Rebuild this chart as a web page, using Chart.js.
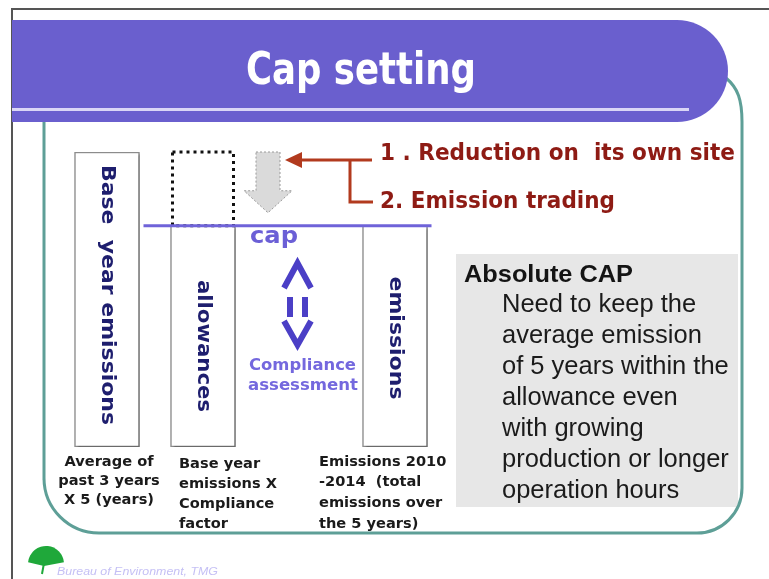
<!DOCTYPE html>
<html><head><meta charset="utf-8">
<script src="https://cdn.jsdelivr.net/npm/chart.js@4/dist/chart.umd.min.js"></script>
<style>html,body{margin:0;padding:0;background:#fff;overflow:hidden}#wrap{width:769px;height:579px}</style>
</head><body><div id="wrap"><canvas id="c" width="769" height="579"></canvas></div>
<script>
// ---- data ----
const categories = ['Base  year emissions', 'allowances', '', 'emissions'];
const barValues = [100, 75, null, 75];
const reductionRange = [null, [75, 100], null, null];
const capValue = 75;
const titleText = 'Cap setting';
const routeLabels = ['1 . Reduction on  its own site', '2. Emission trading'];
const capLabel = 'cap';
const assessLabels = ['Compliance', 'assessment'];
const baseLabels = [
  ['Average of', 'past 3 years', 'X 5 (years)'],
  ['Base year', 'emissions X', 'Compliance', 'factor'],
  null,
  ['Emissions 2010', '-2014  (total', 'emissions over', 'the 5 years)']
];
const boxTitle = 'Absolute CAP';
const boxLines = ['Need to keep the', 'average emission', 'of 5 years within the', 'allowance even', 'with growing', 'production or longer', 'operation hours'];
const footerText = 'Bureau of Environment, TMG';

function fitText(ctx, text, x, y, w, align) {
  const m = ctx.measureText(text).width;
  ctx.save();
  ctx.translate(x, y);
  ctx.scale(w / m, 1);
  ctx.textAlign = align || 'left';
  ctx.fillText(text, 0, 0);
  ctx.restore();
}

const slidePlugin = {
  id: 'slide',
  beforeDraw(chart) {
    const ctx = chart.ctx;
    ctx.save();
    ctx.fillStyle = '#fff';
    ctx.fillRect(0, 0, 769, 579);
    // outer frame
    ctx.strokeStyle = '#555';
    ctx.lineWidth = 2;
    ctx.beginPath();
    ctx.moveTo(12, 579); ctx.lineTo(12, 9); ctx.lineTo(769, 9);
    ctx.stroke();
    // gray info box
    ctx.fillStyle = '#E7E7E7';
    ctx.fillRect(456, 254, 282, 253);
    // teal frame
    ctx.strokeStyle = '#5E9F97';
    ctx.lineWidth = 3;
    ctx.beginPath();
    ctx.moveTo(44, 122);
    ctx.lineTo(44, 480);
    ctx.arcTo(44, 533, 100, 533, 55);
    ctx.lineTo(697, 533);
    ctx.arcTo(742, 533, 742, 488, 45);
    ctx.lineTo(742, 122);
    ctx.bezierCurveTo(742, 100, 738, 88, 726, 78);
    ctx.stroke();
    // banner
    ctx.fillStyle = '#6A5FCE';
    ctx.beginPath();
    ctx.roundRect(12, 20, 716, 102, [0, 51, 51, 0]);
    ctx.fill();
    ctx.fillStyle = '#DAD6F6';
    ctx.fillRect(12, 108, 677, 3);
    ctx.fillStyle = '#fff';
    ctx.font = 'bold 44px "DejaVu Sans"';
    ctx.textBaseline = 'alphabetic';
    fitText(ctx, titleText, 361, 84, 230, 'center');
    ctx.restore();
  },
  beforeDatasetDraw(chart, args) {
    const ctx = chart.ctx;
    ctx.save();
    if (args.index === 0) {
      ctx.shadowColor = 'rgba(0,0,0,0.28)';
      ctx.shadowOffsetX = 2;
      ctx.shadowOffsetY = 2;
      ctx.shadowBlur = 2;
    }
  },
  afterDatasetDraw(chart) {
    chart.ctx.restore();
  },
  afterDatasetsDraw(chart) {
    const ctx = chart.ctx;
    const y = chart.scales.y;
    const bars = chart.getDatasetMeta(0).data;
    const ghost = chart.getDatasetMeta(1).data[1];
    ctx.save();
    // dotted reduction box
    ctx.strokeStyle = '#111';
    ctx.lineWidth = 3;
    ctx.setLineDash([3, 4]);
    const gw = ghost.width;
    ctx.strokeRect(ghost.x - gw / 2, ghost.y, gw, ghost.base - ghost.y);
    ctx.setLineDash([]);
    // gray downward arrow
    const ax = bars[1].x + 65;
    const aTop = y.getPixelForValue(100);
    const aTip = y.getPixelForValue(capValue) - 13;
    ctx.beginPath();
    ctx.moveTo(ax - 12, aTop);
    ctx.lineTo(ax + 12, aTop);
    ctx.lineTo(ax + 12, aTip - 22);
    ctx.lineTo(ax + 24, aTip - 22);
    ctx.lineTo(ax, aTip);
    ctx.lineTo(ax - 24, aTip - 22);
    ctx.lineTo(ax - 12, aTip - 22);
    ctx.closePath();
    ctx.fillStyle = '#DADADA';
    ctx.fill();
    ctx.strokeStyle = '#9A9A9A';
    ctx.lineWidth = 1;
    ctx.setLineDash([2, 2]);
    ctx.stroke();
    ctx.setLineDash([]);
    // cap line
    const cy = y.getPixelForValue(capValue);
    ctx.strokeStyle = '#6F63D9';
    ctx.lineWidth = 3;
    ctx.beginPath();
    ctx.moveTo(bars[0].x + bars[0].width / 2 + 4, cy);
    ctx.lineTo(bars[3].x + bars[3].width / 2 + 4, cy);
    ctx.stroke();
    // red route arrows
    ctx.strokeStyle = '#B23A1E';
    ctx.fillStyle = '#B23A1E';
    ctx.lineWidth = 3;
    ctx.beginPath();
    ctx.moveTo(372, 160); ctx.lineTo(298, 160);
    ctx.moveTo(350, 160); ctx.lineTo(350, 202); ctx.lineTo(373, 202);
    ctx.stroke();
    ctx.beginPath();
    ctx.moveTo(285, 160); ctx.lineTo(302, 152); ctx.lineTo(302, 168); ctx.closePath();
    ctx.fill();
    ctx.fillStyle = '#8E1B14';
    ctx.font = 'bold 23px "DejaVu Sans"';
    ctx.textBaseline = 'middle';
    fitText(ctx, routeLabels[0], 380, 154, 355, 'left');
    fitText(ctx, routeLabels[1], 380, 202, 235, 'left');
    // rotated bar labels
    ctx.fillStyle = '#1E1E6E';
    ctx.font = 'bold 19px "DejaVu Sans"';
    const rot = [[0, 295, 260], [1, 346, 132], [3, 338, 123]];
    rot.forEach(([i, cyy, len]) => {
      ctx.save();
      ctx.translate(bars[i].x, cyy);
      ctx.rotate(Math.PI / 2);
      ctx.textBaseline = 'middle';
      fitText(ctx, categories[i], 0, 0, len, 'center');
      ctx.restore();
    });
    // cap text and symbol
    ctx.fillStyle = '#6B5FD6';
    ctx.font = 'bold 23px "DejaVu Sans"';
    ctx.textBaseline = 'middle';
    fitText(ctx, capLabel, 250, 237, 48, 'left');
    ctx.strokeStyle = '#4B3FC6';
    ctx.lineWidth = 6;
    ctx.lineJoin = 'miter';
    ctx.beginPath();
    ctx.moveTo(284, 288); ctx.lineTo(297.5, 263); ctx.lineTo(311, 288);
    ctx.moveTo(284, 321); ctx.lineTo(297.5, 345); ctx.lineTo(311, 321);
    ctx.stroke();
    ctx.fillStyle = '#4B3FC6';
    ctx.fillRect(287, 297, 6, 20);
    ctx.fillRect(302, 297, 6, 20);
    ctx.fillStyle = '#7468DE';
    ctx.font = 'bold 16px "DejaVu Sans"';
    fitText(ctx, assessLabels[0], 249, 366, 107, 'left');
    fitText(ctx, assessLabels[1], 248, 386, 110, 'left');
    // labels under bars
    ctx.fillStyle = '#1a1a1a';
    ctx.font = 'bold 14.6px "DejaVu Sans"';
    baseLabels[0].forEach((t, k) => { ctx.textAlign = 'center'; ctx.fillText(t, 109, 462 + k * 19); });
    ctx.textAlign = 'left';
    baseLabels[1].forEach((t, k) => ctx.fillText(t, 179, 464 + k * 20));
    baseLabels[3].forEach((t, k) => ctx.fillText(t, 319, 462 + k * 20.6));
    // info box text
    ctx.fillStyle = '#141414';
    ctx.font = 'bold 24px "Liberation Sans"';
    fitText(ctx, boxTitle, 464, 275, 169, 'left');
    ctx.font = '25.5px "Liberation Sans"';
    ctx.fillStyle = '#1b1b1b';
    boxLines.forEach((t, k) => ctx.fillText(t, 502, 305 + k * 31));
    // footer logo
    ctx.fillStyle = '#1FA83A';
    ctx.beginPath();
    ctx.moveTo(44, 566);
    ctx.arc(46, 564, 18, Math.PI + 0.1, 2 * Math.PI - 0.1);
    ctx.closePath();
    ctx.fill();
    ctx.strokeStyle = '#1FA83A';
    ctx.lineWidth = 2;
    ctx.beginPath();
    ctx.moveTo(44, 563); ctx.lineTo(42, 574);
    ctx.stroke();
    ctx.fillStyle = '#C5C0F5';
    ctx.font = 'italic 11px "Liberation Sans"';
    fitText(ctx, footerText, 57, 572, 161, 'left');
    ctx.restore();
  }
};

new Chart(document.getElementById('c'), {
  type: 'bar',
  data: {
    labels: categories,
    datasets: [
      { data: barValues, backgroundColor: '#fff', borderColor: '#8C8C8C', borderWidth: 1.5, barThickness: 65, grouped: false, borderSkipped: false },
      { data: reductionRange, backgroundColor: 'rgba(0,0,0,0)', borderWidth: 0, barThickness: 61, grouped: false }
    ]
  },
  options: {
    responsive: false,
    animation: false,
    events: [],
    layout: { padding: { left: 59, right: 326, top: 152, bottom: 132 } },
    scales: {
      x: { display: false },
      y: { display: false, min: 0, max: 100 }
    },
    plugins: { legend: { display: false }, tooltip: { enabled: false } }
  },
  plugins: [slidePlugin]
});
</script>
</body></html>
